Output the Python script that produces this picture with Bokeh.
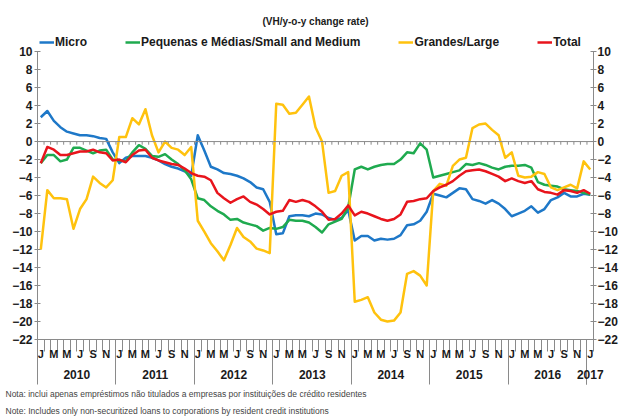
from bokeh.plotting import figure
from bokeh.models import Range1d, LinearAxis, FixedTicker, Legend, LegendItem, Span, Title
from bokeh.embed import file_html
from bokeh.resources import INLINE

month_letters = ["J", "F", "M", "A", "M", "J", "J", "A", "S", "O", "N", "D"]
years = ["2010", "2011", "2012", "2013", "2014", "2015", "2016", "2017"]
months = [f"{y}-{m + 1:02d}" for y in range(2010, 2017) for m in range(12)] + ["2017-01"]

micro = [2.7, 3.4, 2.3, 1.6, 1.1, 0.9, 0.7, 0.7, 0.6, 0.4, 0.3, -1.2,
         -2.4, -1.8, -1.6, -1.6, -1.6, -1.8, -2.1, -2.5, -2.8, -3.0, -3.3, -3.8,
         0.7, -1.0, -2.8, -3.1, -3.5, -3.6, -3.8, -4.1, -4.5, -5.1, -5.3, -6.7,
         -10.3, -10.2, -8.3, -8.2, -8.2, -8.3, -8.0, -8.1, -8.5, -8.7, -8.5, -7.6,
         -11.0, -10.5, -10.5, -11.0, -10.8, -10.9, -10.8, -10.4, -9.3, -9.2, -8.8, -7.8,
         -5.8, -6.0, -6.2, -5.7, -5.2, -5.3, -6.4, -6.6, -6.9, -6.5, -6.9, -7.5,
         -8.3, -8.0, -7.7, -7.2, -7.9, -7.5, -6.5, -6.2, -5.7, -6.1, -6.1, -5.8,
         -5.9]
sme = [-2.4, -1.5, -1.5, -2.2, -2.0, -0.7, -0.7, -1.0, -1.3, -1.0, -0.9, -2.0,
       -2.1, -2.2, -1.2, -0.4, -0.8, -1.6, -1.7, -1.4, -2.0, -2.5, -3.2, -4.2,
       -6.3, -6.5, -7.2, -7.7, -8.1, -8.7, -8.6, -9.0, -9.2, -9.4, -9.9, -9.6,
       -9.7, -9.5, -8.7, -8.8, -8.8, -9.0, -9.5, -10.1, -9.2, -8.9, -8.6, -7.3,
       -3.1, -2.8, -3.1, -2.8, -2.6, -2.5, -2.5, -2.0, -1.2, -1.3, -0.2, -0.9,
       -4.0, -3.8, -3.6, -3.4, -3.2, -2.5, -2.6, -2.4, -2.6, -2.9, -3.1, -2.8,
       -2.7, -2.7, -2.6, -2.9, -4.5, -4.8, -4.9, -5.0, -5.3, -5.4, -5.5, -5.7,
       -5.9]
large = [-12.0, -5.4, -6.3, -6.3, -6.4, -9.7, -7.5, -6.4, -3.9, -4.6, -5.1, -4.3,
         0.5, 0.5, 2.6, 1.9, 3.6, 0.7, -1.2, 0.0, -0.7, -0.9, -1.5, -0.6,
         -8.8, -10.0, -11.3, -12.2, -13.2, -11.5, -9.6, -10.6, -11.1, -11.9, -12.1, -12.4,
         4.2, 4.1, 3.1, 3.2, 4.1, 5.0, 1.6, 0.0, -5.7, -5.5, -3.8, -3.4,
         -17.8, -17.6, -17.3, -19.0, -19.8, -20.0, -19.9, -19.0, -14.7, -14.4, -14.9, -16.0,
         -5.5, -4.7, -4.9, -2.7, -2.0, -1.8, 1.5, 1.9, 2.0, 1.3, 0.7, -1.8,
         -1.2, -3.8, -4.0, -3.9, -3.4, -3.6, -5.1, -5.4, -5.1, -4.8, -5.2, -2.2,
         -3.1]
total = [-2.4, -0.6, -0.9, -1.5, -1.5, -1.3, -1.1, -1.1, -0.9, -1.2, -1.3, -2.1,
         -2.0, -2.3, -1.5, -1.0, -0.9, -1.8, -2.1, -2.3, -2.5, -2.6, -3.0, -3.5,
         -3.8, -3.9, -4.3, -5.7, -6.3, -6.8, -6.4, -6.1, -6.7, -7.0, -7.5, -8.1,
         -7.8, -7.7, -6.5, -6.7, -6.5, -6.7, -7.2, -7.8, -8.7, -8.6, -8.0, -7.1,
         -8.2, -7.8, -8.0, -8.3, -8.6, -8.8, -8.6, -8.1, -6.7, -6.6, -6.4, -6.3,
         -5.5, -5.1, -4.8, -4.4, -3.8, -3.3, -3.2, -3.1, -3.3, -3.6, -3.9, -4.4,
         -4.1, -4.4, -4.6, -4.4, -5.3, -5.6, -5.7, -5.9, -5.4, -5.5, -5.7, -5.4,
         -5.8]

series_names = ["Micro", "Pequenas e Médias/Small and Medium", "Grandes/Large", "Total"]
series_colors = ["#1E78C8", "#1FAA4F", "#FFC20E", "#E8141C"]
y_ticks = list(range(-22, 11, 2))
title_text = "(VH/y-o-y change rate)"
note_pt = "Nota: inclui apenas empréstimos não titulados a empresas por instituições de crédito residentes"
note_en = "Note: Includes only non-securitized loans to corporations by resident credit institutions"

n = len(months)
xs = [i + 0.5 for i in range(n)]
bounds = list(range(n + 1))
month_ticks = [i + 0.5 for i in range(n) if i % 2 == 0]
month_over = {i + 0.5: month_letters[i % 12] for i in range(n) if i % 2 == 0}
year_ticks, year_over, year_bounds = [], {}, []
for k, yr in enumerate(years):
    start = 12 * k
    cnt = min(12, n - start)
    c = start + cnt / 2
    year_ticks.append(c)
    year_over[c] = yr
    year_bounds.append(start)

FONT = "Liberation Sans"
GREY = "#8a8a8a"
TXT = "#1a1a1a"

# frame spans from the legend row down to -22; axes are bounded to [-22, 10]
p = figure(width=620, height=417, x_range=Range1d(0, n), y_range=Range1d(-22, 11.9),
           output_backend="svg", toolbar_location=None,
           x_axis_location=None, y_axis_location=None,
           min_border_left=37, min_border_right=26, min_border_top=34, min_border_bottom=78)
p.xgrid.visible = False
p.ygrid.visible = False
p.outline_line_color = None

p.title.text = title_text
p.title.align = "center"
p.title.text_font = FONT
p.title.text_font_size = "10px"
p.title.text_font_style = "bold"
p.title.text_color = TXT
p.title.standoff = 16

for side in ("left", "right"):
    ax = LinearAxis(ticker=FixedTicker(ticks=y_ticks, minor_ticks=[]), bounds=(-22, 10),
                    major_tick_in=3, major_tick_out=3, minor_tick_in=0, minor_tick_out=0,
                    axis_line_color=GREY, major_tick_line_color=GREY,
                    major_label_text_font=FONT, major_label_text_font_style="bold",
                    major_label_text_font_size="12px", major_label_text_color=TXT,
                    major_label_standoff=2 if side == "left" else 1, axis_label_standoff=0)
    p.add_layout(ax, side)

xa = LinearAxis(ticker=FixedTicker(ticks=month_ticks, minor_ticks=bounds),
                major_label_overrides=month_over,
                major_tick_in=0, major_tick_out=0, minor_tick_in=0, minor_tick_out=12,
                axis_line_color=GREY, minor_tick_line_color=GREY,
                major_label_text_font=FONT, major_label_text_font_style="bold",
                major_label_text_font_size="11px", major_label_text_color=TXT,
                major_label_standoff=-4, axis_label_standoff=0)
p.add_layout(xa, "below")

xb = LinearAxis(ticker=FixedTicker(ticks=year_ticks, minor_ticks=year_bounds + [n - 1]),
                major_label_overrides=year_over,
                major_tick_in=0, major_tick_out=0, minor_tick_in=21, minor_tick_out=22,
                axis_line_color=None, major_tick_line_color=None, minor_tick_line_color=GREY,
                major_label_text_font=FONT, major_label_text_font_style="bold",
                major_label_text_font_size="12px", major_label_text_color=TXT,
                major_label_standoff=-15, axis_label_standoff=0)
p.add_layout(xb, "below")

for k, txt in enumerate((note_pt, note_en)):
    t = Title(text=txt, align="left", text_font=FONT, text_font_size="8.5px",
              text_font_style="normal", text_color="#444444", offset=-32,
              standoff=10 if k == 0 else 0)
    p.add_layout(t, "below")

p.add_layout(Span(location=0, dimension="width", line_color=GREY, line_width=1))
p.segment(x0=bounds, x1=bounds, y0=[0] * len(bounds), y1=[-0.35] * len(bounds),
          line_color=GREY, line_width=1)

items = []
for name, col, data in zip(series_names, series_colors, [micro, sme, large, total]):
    r = p.line(xs, data, line_color=col, line_width=2.5, line_join="round")
    items.append(LegendItem(label=name, renderers=[r]))

legend = Legend(items=items, orientation="horizontal", location=(2, 290),
                spacing=38, label_standoff=1, glyph_width=15, glyph_height=12,
                label_height=12, label_text_font=FONT, label_text_font_size="12px",
                label_text_font_style="bold", label_text_color=TXT,
                padding=0, margin=0, border_line_color=None, background_fill_alpha=0)
p.add_layout(legend)

open("out.html", "w").write(file_html(p, INLINE))
